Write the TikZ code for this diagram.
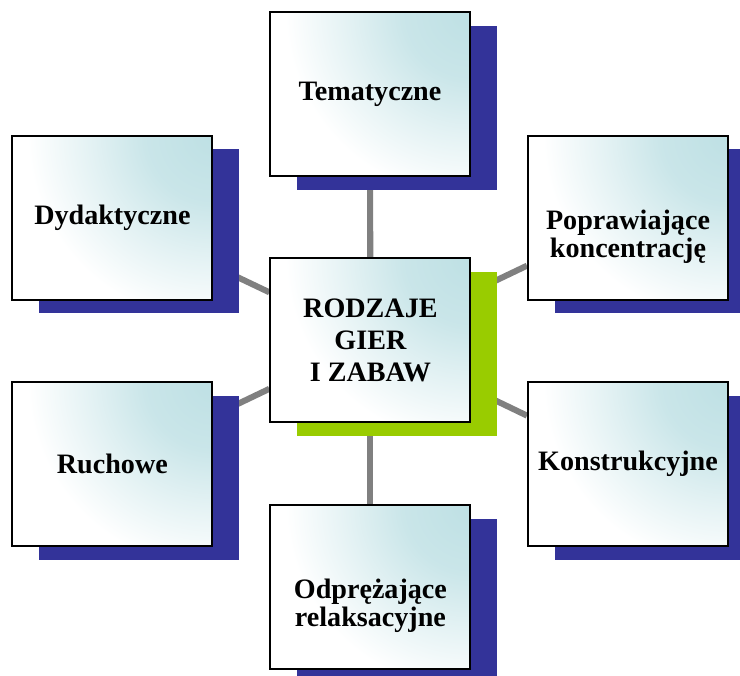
\documentclass[tikz,border=0pt]{standalone}
\usepackage{fontspec}
\setmainfont{Liberation Serif}
\usetikzlibrary{shadows,backgrounds}

\definecolor{tealc}{RGB}{190,224,228}
\definecolor{navyc}{RGB}{51,51,153}
\definecolor{limec}{RGB}{153,204,0}
\definecolor{linkc}{RGB}{128,128,128}

% soft glow from the upper right corner of each box
\pgfdeclareradialshading{glow}{\pgfpointorigin}{color(0bp)=(tealc);
  color(6bp)=(tealc!82!white); color(11bp)=(tealc!42!white);
  color(16.5bp)=(white); color(50bp)=(white)}

% strut that pushes a two-line label down a little
\newcommand\lowstrut{\rule{0pt}{41pt}}

\tikzset{
  box/.style={draw=black, line width=1.5pt, fill=white,
    minimum width=5cm, minimum height=4.1cm, inner sep=2pt, align=center,
    font=\fontsize{20}{20}\selectfont\bfseries,
    path picture={\shade[shading=glow]
      (path picture bounding box.north east) circle (7cm);},
    drop shadow={shadow xshift=0.675cm, shadow yshift=-0.34cm,
      fill=#1, opacity=1}},
  box/.default=navyc,
  link/.style={draw=linkc, line width=4.3pt}
}

\begin{document}
\begin{tikzpicture}
\useasboundingbox (0,0) rectangle (18.5,-16.875);

% Centre
\node[box=limec, font=\fontsize{20}{23}\selectfont\bfseries] (rodzaje) at (9.26,-8.51) {RODZAJE\\GIER\\I ZABAW};

% Kinds of games round the centre
\node[box] (tematyczne) at (9.25,-2.35) {Tematyczne};
\node[box] (dydaktyczne) at (2.81,-5.44) {Dydaktyczne};
\node[box] (poprawiajace) at (15.7,-5.44) {\lowstrut Poprawiające\\koncentrację};
\node[box] (ruchowe) at (2.81,-11.6) {Ruchowe};
\node[box] (konstrukcyjne) at (15.7,-11.6) {Konstrukcyjne};
\node[box] (odprezajace) at (9.26,-14.675) {\lowstrut Odprężające\\relaksacyjne};

% Links from the centre, behind the boxes
\begin{scope}[on background layer]
\foreach \n in {tematyczne,dydaktyczne,poprawiajace,ruchowe,konstrukcyjne,odprezajace}
  \draw[link] (rodzaje) -- (\n);
\end{scope}

\end{tikzpicture}
\end{document}
